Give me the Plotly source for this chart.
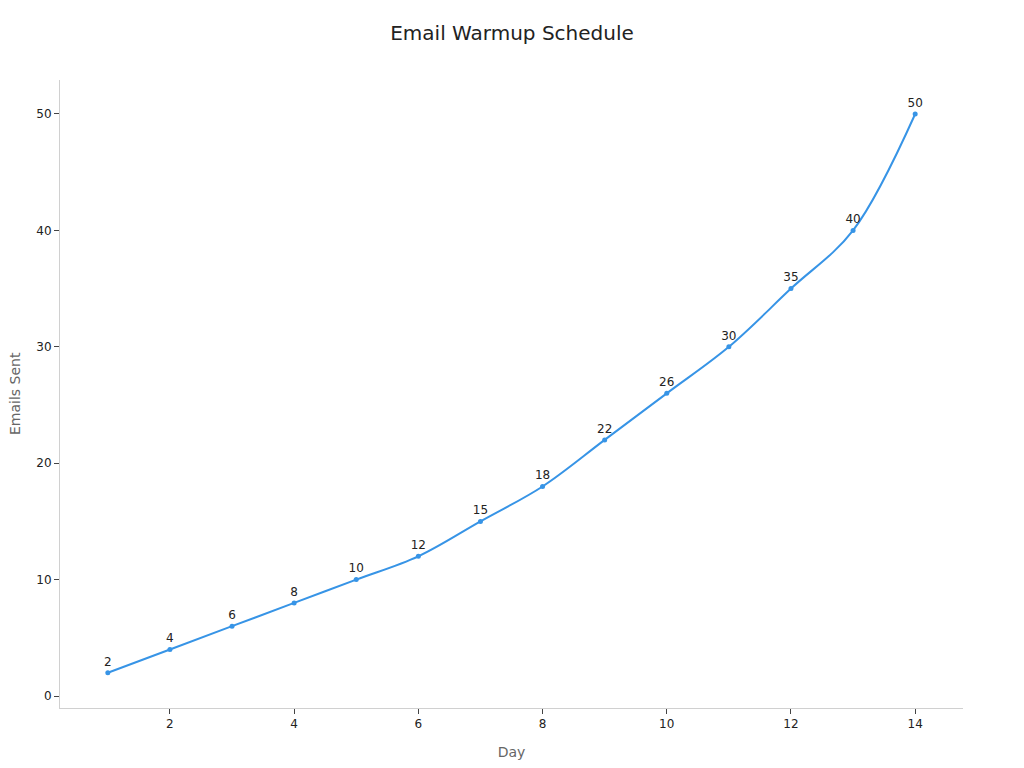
import plotly.graph_objects as go

# Email warmup - emails sent per day
days = [1, 2, 3, 4, 5, 6, 7, 8, 9, 10, 11, 12, 13, 14]
emails_sent = [2, 4, 6, 8, 10, 12, 15, 18, 22, 26, 30, 35, 40, 50]
title_text = 'Email Warmup Schedule'
y_title = 'Emails Sent'

fig = go.Figure()
fig.add_trace(go.Scatter(
    x=days,
    y=emails_sent,
    mode='lines+markers+text',
    text=[str(v) for v in emails_sent],
    textposition='top center',
    textfont=dict(size=12, color='#222222'),
    line=dict(color='#3794e6', width=2, shape='spline'),
    marker=dict(color='#3794e6', size=5),
    showlegend=False,
))

# page has 8px body margin, so figure is a bit smaller
fig.update_layout(
    width=1008, height=752,
    title=dict(text=title_text, x=0.5, y=0.967, xanchor='center', yanchor='middle',
               font=dict(size=20, color='#222222')),
    font=dict(family='DejaVu Sans', size=12, color='#222222'),
    paper_bgcolor='white', plot_bgcolor='white',
    margin=dict(l=52, r=53, t=72, b=52),
)
# y title as annotation so it sits a bit further left (but not past the edge)
fig.add_annotation(text=y_title, textangle=-90, xref='paper', yref='paper',
                   x=0, y=0.5, xanchor='center', yanchor='middle', xshift=-45,
                   showarrow=False, font=dict(size=14, color='#666666'))
fig.update_xaxes(
    title=dict(text='Day', font=dict(size=14, color='#666666'), standoff=18),
    range=[0.23, 14.77], dtick=2, showgrid=False, zeroline=False,
    showline=True, linecolor='#d0d0d0', linewidth=1,
    ticks='outside', tickcolor='#444444', ticklen=5, automargin=False,
)
fig.update_yaxes(
    range=[-1.03, 52.92], dtick=10, showgrid=False, zeroline=False,
    showline=True, linecolor='#d0d0d0', linewidth=1,
    ticks='outside', tickcolor='#444444', ticklen=5, automargin=False,
)

fig.write_html('out.html')
